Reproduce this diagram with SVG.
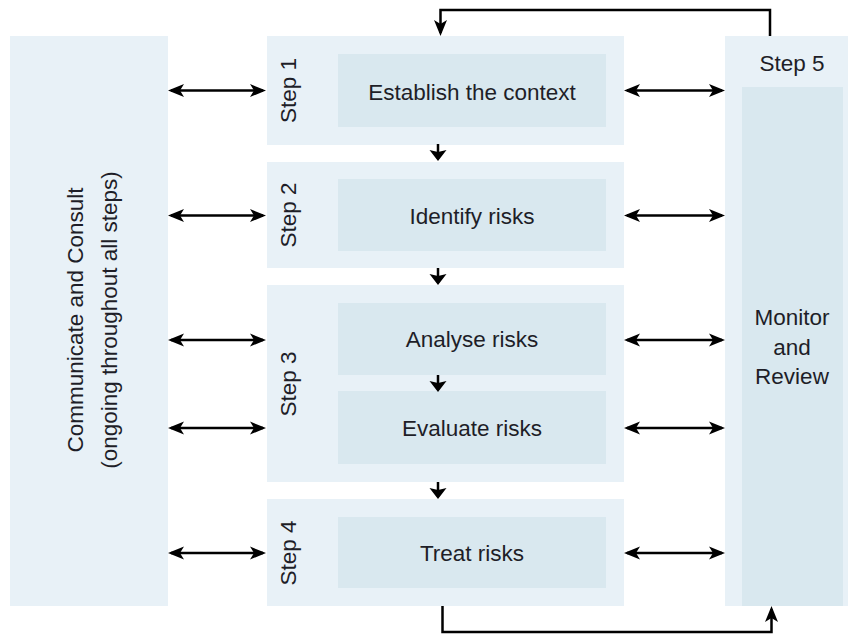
<svg xmlns="http://www.w3.org/2000/svg" width="848" height="636" viewBox="0 0 848 636">
<style>
  .outer { fill: #e8f1f7; }
  .inner { fill: #d9e8ef; }
  text { font-family: "Liberation Sans", Arial, sans-serif; font-size: 22.5px; fill: #1e1e28; text-anchor: middle; }
  .conn { stroke: #000; stroke-width: 2.5; fill: none; }
</style>
<defs>
  <marker id="ah" viewBox="-18 -8 20 16" refX="-3" refY="0" markerWidth="20" markerHeight="16" markerUnits="userSpaceOnUse" orient="auto-start-reverse">
    <path d="M0,0 L-16,-6.5 L-12,0 L-16,6.5 Z" fill="#000"/>
  </marker>
  <marker id="sh" viewBox="-12 -9 14 18" refX="-2" refY="0" markerWidth="14" markerHeight="18" markerUnits="userSpaceOnUse" orient="auto">
    <path d="M0,0 L-11,-8.5 L-9,0 L-11,8.5 Z" fill="#000"/>
  </marker>
</defs>
<rect width="848" height="636" fill="#fff"/>

<g id="communicate">
  <rect class="outer" x="10" y="36" width="158" height="570"/>
  <text transform="translate(83,320) rotate(-90)">Communicate and Consult</text>
  <text transform="translate(117,320) rotate(-90)">(ongoing throughout all steps)</text>
</g>

<g id="step1">
  <rect class="outer" x="267" y="36" width="357" height="109"/>
  <text transform="translate(296,90.5) rotate(-90)">Step 1</text>
  <rect class="inner" x="338" y="54" width="268" height="73"/>
  <text x="472" y="99.5">Establish the context</text>
</g>

<g id="step2">
  <rect class="outer" x="267" y="162" width="357" height="106"/>
  <text transform="translate(296,215) rotate(-90)">Step 2</text>
  <rect class="inner" x="338" y="179" width="268" height="72"/>
  <text x="472" y="224">Identify risks</text>
</g>

<g id="step3">
  <rect class="outer" x="267" y="285" width="357" height="197"/>
  <text transform="translate(296,384) rotate(-90)">Step 3</text>
  <rect class="inner" x="338" y="303" width="268" height="72"/>
  <text x="472" y="347">Analyse risks</text>
  <rect class="inner" x="338" y="391" width="268" height="73"/>
  <text x="472" y="436">Evaluate risks</text>
</g>

<g id="step4">
  <rect class="outer" x="267" y="499" width="357" height="107"/>
  <text transform="translate(296,553) rotate(-90)">Step 4</text>
  <rect class="inner" x="338" y="517" width="268" height="71"/>
  <text x="472" y="561">Treat risks</text>
</g>

<g id="step5">
  <rect class="outer" x="725" y="36" width="123" height="570"/>
  <text x="792" y="71">Step 5</text>
  <rect class="inner" x="742" y="87" width="101" height="519"/>
  <text x="792" y="325">Monitor</text>
  <text x="792" y="355">and</text>
  <text x="792" y="384">Review</text>
</g>

<g id="connectors">
  <line class="conn" x1="171" y1="90.5" x2="263" y2="90.5" marker-start="url(#ah)" marker-end="url(#ah)"/>
  <line class="conn" x1="171" y1="215.5" x2="263" y2="215.5" marker-start="url(#ah)" marker-end="url(#ah)"/>
  <line class="conn" x1="171" y1="340" x2="263" y2="340" marker-start="url(#ah)" marker-end="url(#ah)"/>
  <line class="conn" x1="171" y1="428" x2="263" y2="428" marker-start="url(#ah)" marker-end="url(#ah)"/>
  <line class="conn" x1="171" y1="553" x2="263" y2="553" marker-start="url(#ah)" marker-end="url(#ah)"/>

  <line class="conn" x1="627" y1="90.5" x2="722" y2="90.5" marker-start="url(#ah)" marker-end="url(#ah)"/>
  <line class="conn" x1="627" y1="215.5" x2="722" y2="215.5" marker-start="url(#ah)" marker-end="url(#ah)"/>
  <line class="conn" x1="627" y1="340" x2="722" y2="340" marker-start="url(#ah)" marker-end="url(#ah)"/>
  <line class="conn" x1="627" y1="428" x2="722" y2="428" marker-start="url(#ah)" marker-end="url(#ah)"/>
  <line class="conn" x1="627" y1="553" x2="722" y2="553" marker-start="url(#ah)" marker-end="url(#ah)"/>

  <line class="conn" x1="438" y1="144" x2="438" y2="159" marker-end="url(#sh)"/>
  <line class="conn" x1="438" y1="268" x2="438" y2="283" marker-end="url(#sh)"/>
  <line class="conn" x1="438" y1="375" x2="438" y2="390" marker-end="url(#sh)"/>
  <line class="conn" x1="438" y1="482" x2="438" y2="497" marker-end="url(#sh)"/>

  <path class="conn" d="M770,36 V10 H440.5 V33" marker-end="url(#ah)"/>
  <path class="conn" d="M442.5,606 V632 H771.5 V609" marker-end="url(#ah)"/>
</g>
</svg>
